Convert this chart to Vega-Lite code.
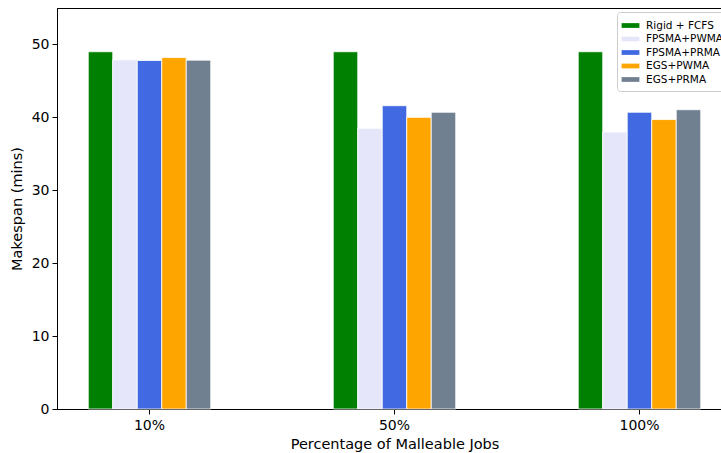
{
  "$schema": "https://vega.github.io/schema/vega-lite/v6.json",
  "autosize": "none",
  "padding": {"left": 57, "top": 8, "right": 0, "bottom": 44},
  "width": 675,
  "height": 401,
  "config": {
    "font": "DejaVu Sans",
    "view": {"stroke": "black", "strokeWidth": 1},
    "axis": {"labelFont": "DejaVu Sans", "titleFont": "DejaVu Sans", "labelFontSize": 14, "titleFontSize": 14.5, "titleFontWeight": "normal", "labelColor": "black", "titleColor": "black", "domainColor": "black", "tickColor": "black", "grid": false, "tickSize": 5}
  },
  "data": {"values": [
    {"pct": "10%", "method": "Rigid + FCFS", "makespan": 49.0},
    {"pct": "10%", "method": "FPSMA+PWMA", "makespan": 47.9},
    {"pct": "10%", "method": "FPSMA+PRMA", "makespan": 47.8},
    {"pct": "10%", "method": "EGS+PWMA", "makespan": 48.2},
    {"pct": "10%", "method": "EGS+PRMA", "makespan": 47.85},
    {"pct": "50%", "method": "Rigid + FCFS", "makespan": 49.0},
    {"pct": "50%", "method": "FPSMA+PWMA", "makespan": 38.5},
    {"pct": "50%", "method": "FPSMA+PRMA", "makespan": 41.6},
    {"pct": "50%", "method": "EGS+PWMA", "makespan": 40.0},
    {"pct": "50%", "method": "EGS+PRMA", "makespan": 40.7},
    {"pct": "100%", "method": "Rigid + FCFS", "makespan": 49.0},
    {"pct": "100%", "method": "FPSMA+PWMA", "makespan": 38.0},
    {"pct": "100%", "method": "FPSMA+PRMA", "makespan": 40.7},
    {"pct": "100%", "method": "EGS+PWMA", "makespan": 39.7},
    {"pct": "100%", "method": "EGS+PRMA", "makespan": 41.05}
  ]},
  "mark": {"type": "bar", "stroke": "white", "strokeWidth": 0.8},
  "encoding": {
    "x": {"field": "pct", "type": "nominal", "sort": ["10%", "50%", "100%"],
          "scale": {"paddingInner": 0.5, "paddingOuter": 0.1276},
          "axis": {"title": "Percentage of Malleable Jobs", "labelAngle": 0, "labelPadding": 4, "titlePadding": 5}},
    "xOffset": {"field": "method", "type": "nominal",
                "sort": ["Rigid + FCFS", "FPSMA+PWMA", "FPSMA+PRMA", "EGS+PWMA", "EGS+PRMA"],
                "scale": {"paddingInner": 0, "paddingOuter": 0}},
    "y": {"field": "makespan", "type": "quantitative",
          "scale": {"domain": [0, 55], "nice": false},
          "axis": {"title": "Makespan (mins)", "values": [0, 10, 20, 30, 40, 50], "labelPadding": 3, "titlePadding": 7}},
    "color": {"field": "method", "type": "nominal",
              "sort": ["Rigid + FCFS", "FPSMA+PWMA", "FPSMA+PRMA", "EGS+PWMA", "EGS+PRMA"],
              "scale": {"domain": ["Rigid + FCFS", "FPSMA+PWMA", "FPSMA+PRMA", "EGS+PWMA", "EGS+PRMA"],
                        "range": ["#008000", "#e6e6fa", "#4169e1", "#ffa500", "#708090"]},
              "legend": {"title": null, "orient": "none", "legendX": 560, "legendY": 4,
                         "symbolType": "M-1.2,-0.32H1.2V0.32H-1.2Z", "symbolSize": 220, "symbolStrokeWidth": 0,
                         "labelFontSize": 10.5, "labelFont": "DejaVu Sans", "labelColor": "black",
                         "rowPadding": 0.5, "padding": 6, "strokeColor": "#cccccc", "fillColor": "white", "cornerRadius": 3, "labelOffset": 8}}
  }
}
